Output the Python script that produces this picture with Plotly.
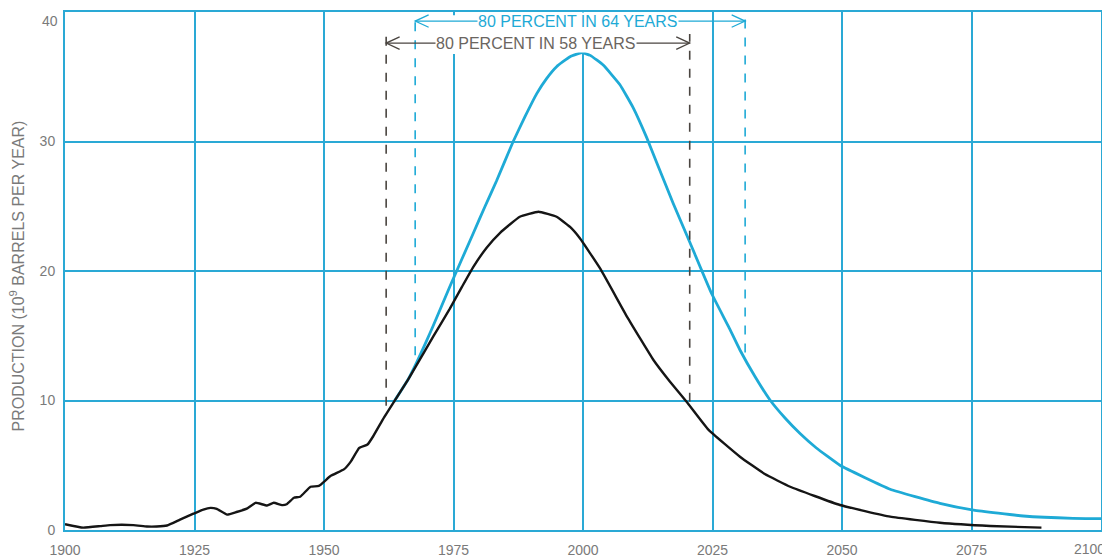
import plotly.graph_objects as go

# ---- data ----
black_years = [1900, 1903.5, 1906.8, 1908.7, 1913.2, 1915.8, 1917.7, 1919.7, 1922.2, 1924.8,
               1926.7, 1928.1, 1929.3, 1931.3, 1933.1, 1935.1, 1936.8, 1939.0, 1940.3, 1941.9,
               1942.8, 1944.2, 1945.4, 1947.4, 1949.0, 1951.3, 1953.9, 1955.2, 1956.8, 1958.4,
               1959.5, 1961.6, 1963.5, 1966.2, 1967.9, 1971.1, 1974.3, 1976.6, 1978.8, 1981.4,
               1984.0, 1987.8, 1991.4, 1994.9, 1997.5, 1999.4, 2003.3, 2008.6, 2013.6, 2016.8,
               2020.0, 2024.2, 2030.3, 2035.1, 2040.0, 2049.6, 2059.3, 2068.9, 2078.6, 2088.5]
black_prod = [0.45, 0.18, 0.3, 0.38, 0.38, 0.27, 0.27, 0.35, 0.8, 1.26,
              1.58, 1.71, 1.63, 1.19, 1.39, 1.65, 2.1, 1.89, 2.1, 1.92,
              1.99, 2.49, 2.57, 3.34, 3.4, 4.18, 4.7, 5.3, 6.34, 6.6,
              7.24, 8.7, 9.9, 11.6, 12.75, 14.95, 17.1, 18.75, 20.3, 21.8,
              22.95, 24.19, 24.58, 24.19, 23.4, 22.53, 20.2, 16.4, 13.13, 11.45,
              9.9, 7.75, 5.66, 4.32, 3.34, 1.93, 1.03, 0.56, 0.31, 0.18]

cyan_years = [1963.5, 1966.2, 1967.9, 1969.8, 1971.0, 1974.3, 1978.8, 1981.1, 1983.3, 1986.5,
              1988.8, 1991.1, 1993.0, 1994.9, 1997.5, 1999.8, 2001.4, 2003.9, 2007.1, 2009.7,
              2012.3, 2014.2, 2017.4, 2020.7, 2024.8, 2028.1, 2030.3, 2033.2, 2036.1, 2039.0,
              2041.9, 2045.0, 2049.6, 2059.3, 2068.9, 2075.4, 2085.0, 2094.6, 2100.0]
cyan_prod = [9.9, 11.6, 12.95, 14.6, 15.7, 18.8, 22.9, 25.0, 26.95, 29.98,
             31.92, 33.72, 34.88, 35.78, 36.55, 36.86, 36.65, 35.9, 34.4, 32.6,
             30.3, 28.4, 25.23, 22.14, 18.28, 15.7, 13.9, 11.85, 10.04, 8.65,
             7.45, 6.35, 5.0, 3.15, 2.06, 1.54, 1.08, 0.9, 0.88]

x_ticks = [1900, 1925, 1950, 1975, 2000, 2025, 2050, 2075, 2100]
y_ticks = [0, 10, 20, 30, 40]

# 80-percent spans: [start year, end year, bottom of left dashed, bottom of right dashed, top, arrow level]
black_span = [1962.0, 2020.6, 9.6, 9.9, 38.3, 37.6]
cyan_span = [1967.6, 2031.3, 13.5, 13.7, 39.8, 39.3]
black_label = "80 PERCENT IN 58 YEARS"
cyan_label = "80 PERCENT IN 64 YEARS"
black_label_x = 1991.0
cyan_label_x = 1999.0

CYAN = "#1eaad6"
GRID = "#2aa9d5"
BLACK = "#151515"
DASH_BLACK = "#4a4540"
TEXT = "#7a7a7a"
TICKFONT = dict(family="Liberation Sans", size=14, color=TEXT)

fig = go.Figure()
fig.add_trace(go.Scatter(x=cyan_years, y=cyan_prod, mode="lines",
                         line=dict(color=CYAN, width=2.8, shape="spline", smoothing=0.35),
                         hoverinfo="skip", showlegend=False))
fig.add_trace(go.Scatter(x=black_years, y=black_prod, mode="lines",
                         line=dict(color=BLACK, width=2.4, shape="spline", smoothing=0.35),
                         hoverinfo="skip", showlegend=False))

shapes = []
# white patch under annotations (hides grid lines near the labels)
shapes.append(dict(type="rect", xref="x", yref="y", x0=1969.2, x1=2019.3, y0=36.75, y1=39.75,
                   fillcolor="white", line=dict(width=0), layer="between"))


def span_shapes(span, color):
    x0, x1, b0, b1, top, lvl = span
    out = []
    out.append(dict(type="line", xref="x", yref="y", x0=x0, x1=x0, y0=b0, y1=top,
                    line=dict(color=color, width=1.6, dash="dash")))
    out.append(dict(type="line", xref="x", yref="y", x0=x1, x1=x1, y0=b1, y1=top,
                    line=dict(color=color, width=1.6, dash="dash")))
    out.append(dict(type="line", xref="x", yref="y", x0=x0, x1=x1, y0=lvl, y1=lvl,
                    line=dict(color=color, width=1.3)))
    dx, dy = 2.6, 0.48
    out.append(dict(type="path", xref="x", yref="y",
                    path=f"M {x0+dx},{lvl+dy} L {x0},{lvl} L {x0+dx},{lvl-dy}",
                    line=dict(color=color, width=1.3)))
    out.append(dict(type="path", xref="x", yref="y",
                    path=f"M {x1-dx},{lvl+dy} L {x1},{lvl} L {x1-dx},{lvl-dy}",
                    line=dict(color=color, width=1.3)))
    return out


shapes += span_shapes(cyan_span, CYAN)
shapes += span_shapes(black_span, DASH_BLACK)

annotations = [
    dict(x=cyan_label_x, y=cyan_span[5], xref="x", yref="y", text=cyan_label, showarrow=False,
         font=dict(family="Liberation Sans", size=16, color=CYAN), bgcolor="white", borderpad=0),
    dict(x=black_label_x, y=black_span[5], xref="x", yref="y", text=black_label, showarrow=False,
         font=dict(family="Liberation Sans", size=16, color="#6a6560"), bgcolor="white", borderpad=0),
    dict(x=-0.046, y=0.49, xref="paper", yref="paper", textangle=-90,
         text="PRODUCTION (10<sup>9</sup> BARRELS PER YEAR)", showarrow=False,
         font=dict(family="Liberation Sans", size=16, color=TEXT), xanchor="center", yanchor="middle"),
    # edge tick labels, nudged inward as in the reference so they stay on the page
    dict(x=0, xref="paper", y=y_ticks[-1], yref="y", text=str(y_ticks[-1]), showarrow=False,
         xanchor="right", yanchor="top", xshift=-5, yshift=1, font=TICKFONT),
    dict(x=x_ticks[-1], xref="x", y=0, yref="paper", text=str(x_ticks[-1]), showarrow=False,
         xanchor="right", yanchor="top", xshift=6, yshift=-9, font=TICKFONT),
]

# inner ticks on the axes; the last ones coincide with the frame and are labelled above
x_inner = x_ticks[:-1]
y_inner = y_ticks[:-1]

# the page body adds an 8px offset, so the figure is sized to fill the rest of the window
fig.update_layout(
    width=1102, height=551,
    margin=dict(l=57, r=9, t=4, b=29),
    paper_bgcolor="white", plot_bgcolor="white",
    shapes=shapes, annotations=annotations,
    font=dict(family="Liberation Sans", size=13, color=TEXT),
    xaxis=dict(range=[1900, 2100], tickvals=x_inner, ticktext=[str(t) for t in x_inner],
               showgrid=True, gridcolor=GRID, gridwidth=1.8, zeroline=False,
               showline=True, linecolor=GRID, linewidth=2, mirror=True, automargin=False,
               ticks="outside", ticklen=6, tickcolor="rgba(0,0,0,0)", ticklabeloverflow="allow",
               tickfont=TICKFONT, fixedrange=True),
    yaxis=dict(range=[0, 40], tickvals=y_inner, ticktext=[str(t) for t in y_inner],
               showgrid=True, gridcolor=GRID,
               gridwidth=1.8, zeroline=False, showline=True, linecolor=GRID, linewidth=2,
               mirror=True, automargin=False, ticklabeloverflow="allow",
               ticks="outside", ticklen=5, tickcolor="rgba(0,0,0,0)",
               tickfont=TICKFONT, fixedrange=True),
)

fig.write_html("out.html")
